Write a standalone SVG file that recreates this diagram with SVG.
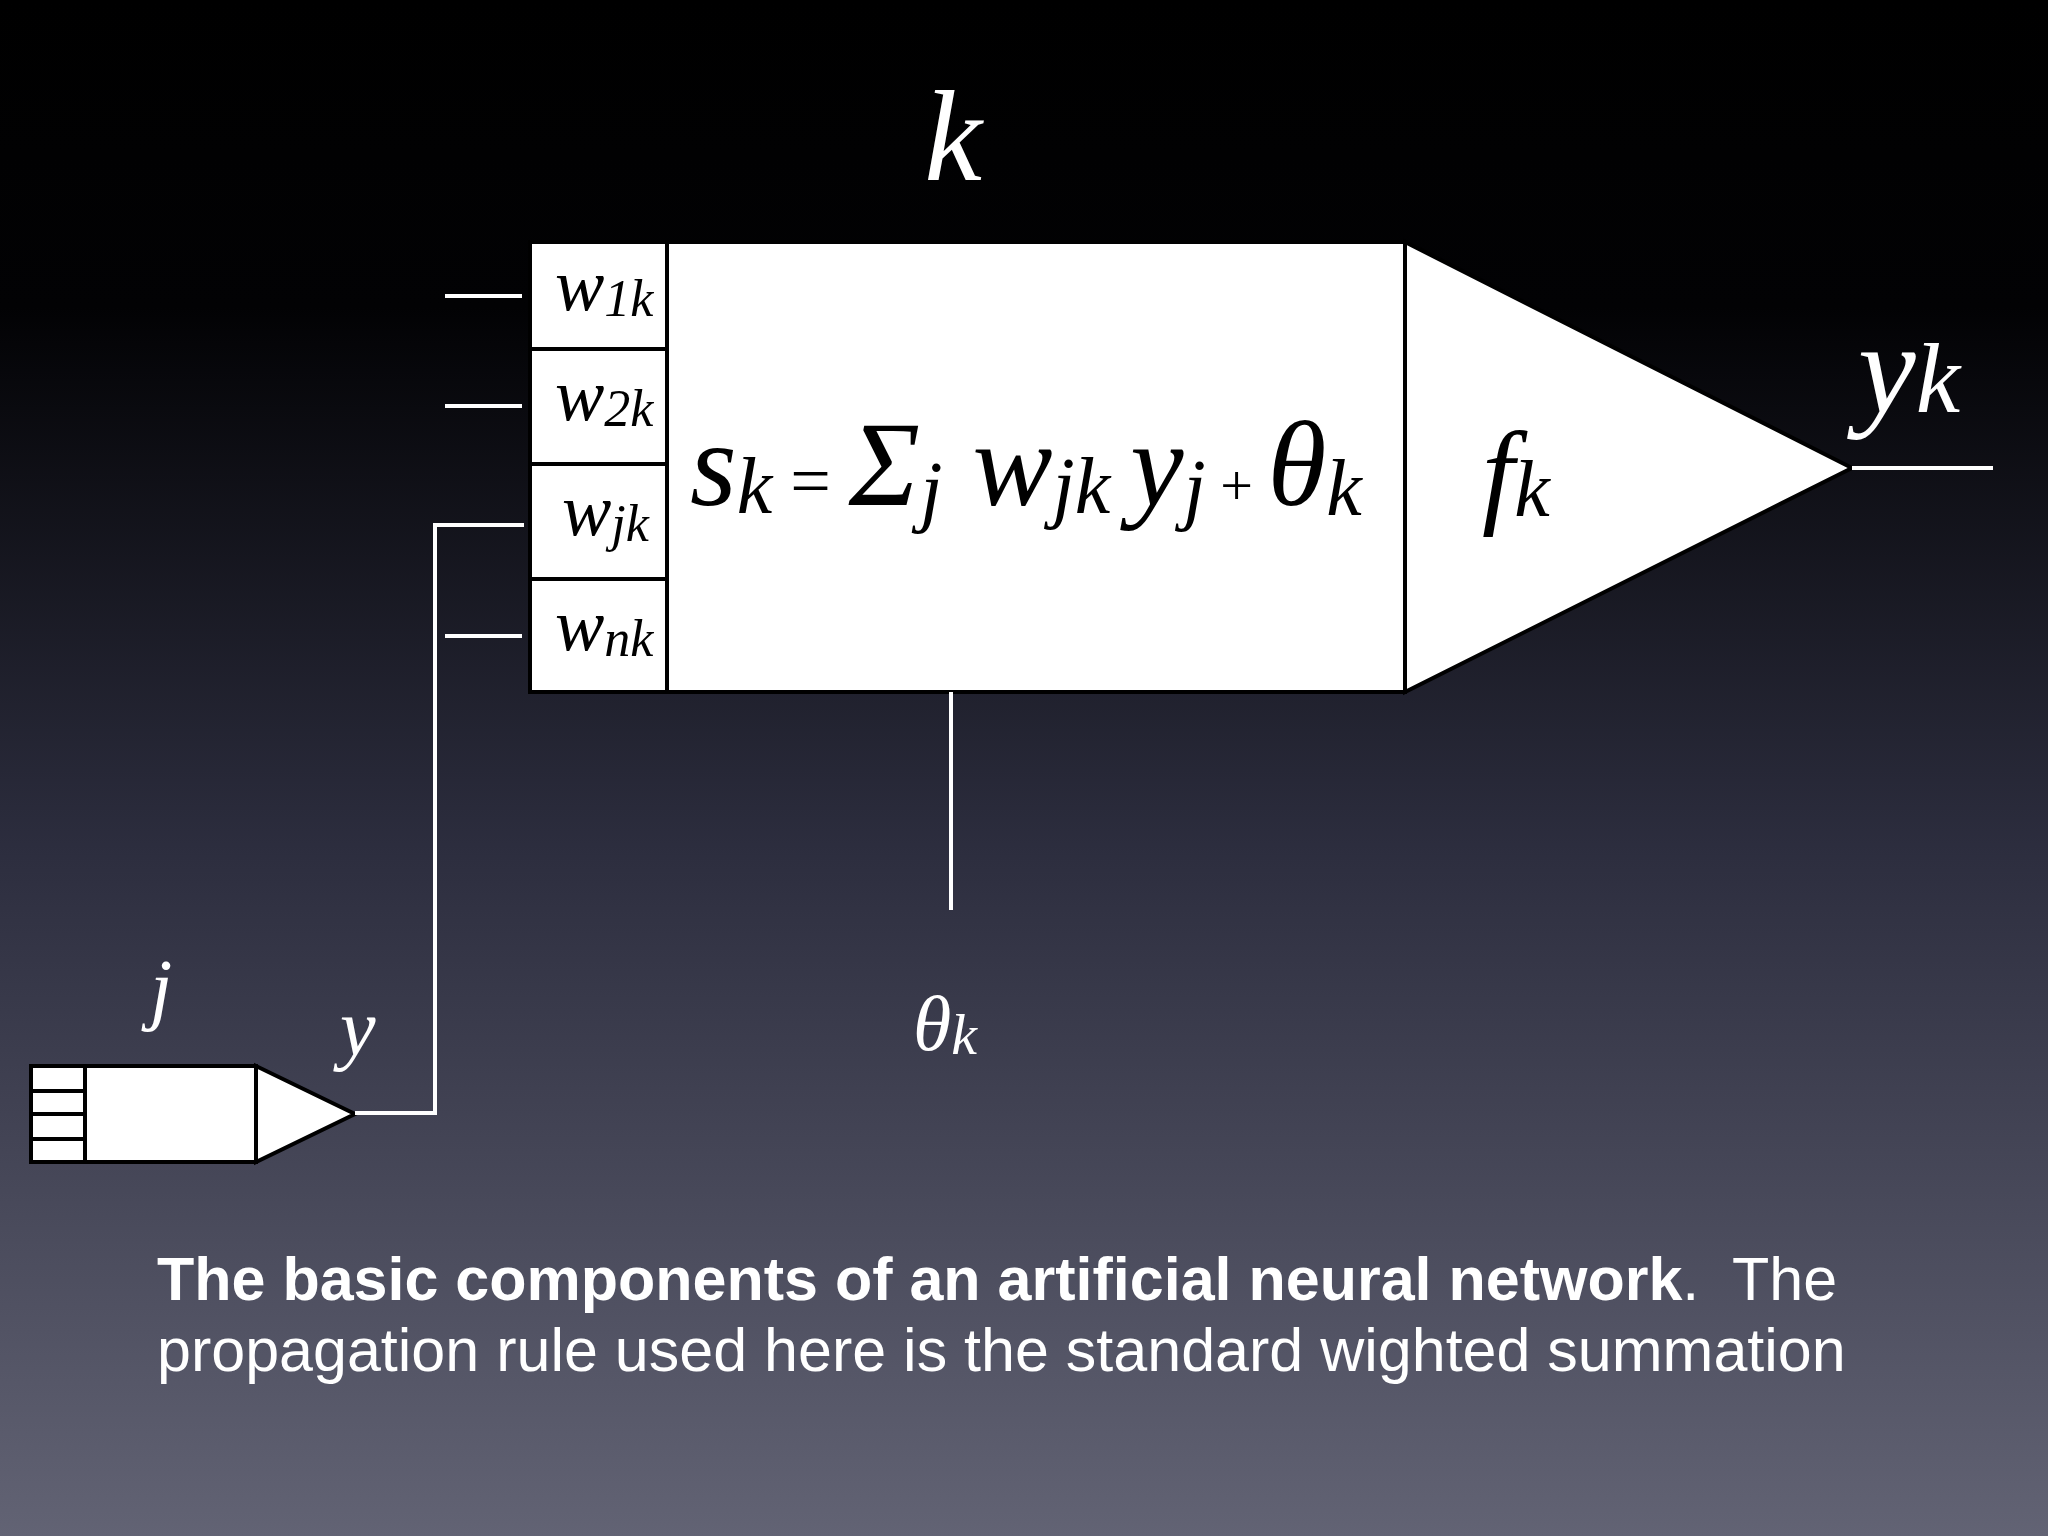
<svg xmlns="http://www.w3.org/2000/svg" width="2048" height="1536" viewBox="0 0 2048 1536">
<defs>
<linearGradient id="bg" x1="0" y1="0" x2="0" y2="1">
<stop offset="0" stop-color="#000"/><stop offset="0.2" stop-color="#020204"/><stop offset="0.55" stop-color="#2c2d3e"/><stop offset="1" stop-color="#626374"/>
</linearGradient>
<style>
.s{fill:#fff;stroke:#000;stroke-width:4}
.w{stroke:#fff;stroke-width:4;fill:none}
.m{font-family:'Liberation Serif',serif;font-style:italic}
.c{font-family:'Liberation Sans',sans-serif;fill:#fff;font-size:61px}
</style>
</defs>
<rect width="2048" height="1536" fill="url(#bg)"/>
<g id="neuron-k">
<rect class="s" x="530" y="242" width="875" height="450"/>
<line x1="667" y1="242" x2="667" y2="692" stroke="#000" stroke-width="4"/>
<line x1="530" y1="349" x2="667" y2="349" stroke="#000" stroke-width="4"/>
<line x1="530" y1="464" x2="667" y2="464" stroke="#000" stroke-width="4"/>
<line x1="530" y1="579" x2="667" y2="579" stroke="#000" stroke-width="4"/>
<polygon class="s" points="1405,242 1852,468 1405,692"/>
<g class="m" font-size="74">
<text x="555" y="310">w<tspan font-size="52" dy="6">1k</tspan></text>
<text x="555" y="420">w<tspan font-size="52" dy="6">2k</tspan></text>
<text x="562" y="535">w<tspan font-size="52" dy="6">jk</tspan></text>
<text x="555" y="650">w<tspan font-size="52" dy="6">nk</tspan></text>
</g>
<text class="m" x="690" y="505" font-size="120">s<tspan font-size="80" dy="8">k</tspan><tspan font-style="normal" font-size="72" dy="-8"> = </tspan>Σ<tspan font-size="80" dy="12">j</tspan><tspan dy="-12"> w</tspan><tspan font-size="80" dy="8">jk </tspan><tspan dy="-8">y</tspan><tspan font-size="80" dy="10">j</tspan><tspan font-style="normal" font-size="58" dy="-10"> + </tspan>θ<tspan font-size="80" dy="10">k</tspan></text>
<text class="m" x="1482" y="512" font-size="116">f<tspan font-size="80" dy="4">k</tspan></text>
<text class="m" x="953" y="180" font-size="130" fill="#fff" text-anchor="middle">k</text>
</g>
<g id="neuron-j">
<rect class="s" x="31" y="1066" width="225" height="96"/>
<line x1="85" y1="1066" x2="85" y2="1162" stroke="#000" stroke-width="4"/>
<line x1="31" y1="1091" x2="85" y2="1091" stroke="#000" stroke-width="4"/>
<line x1="31" y1="1114" x2="85" y2="1114" stroke="#000" stroke-width="4"/>
<line x1="31" y1="1139" x2="85" y2="1139" stroke="#000" stroke-width="4"/>
<polygon class="s" points="256,1066 355,1114 256,1162"/>
<text class="m" x="150" y="1015" font-size="80" fill="#fff">j</text>
</g>
<g id="connectors">
<line class="w" x1="445" y1="296" x2="522" y2="296"/>
<line class="w" x1="445" y1="406" x2="522" y2="406"/>
<line class="w" x1="445" y1="636" x2="522" y2="636"/>
<polyline class="w" points="524,525 435,525 435,1113 355,1113"/>
<line class="w" x1="951" y1="692" x2="951" y2="910"/>
<line class="w" x1="1852" y1="468" x2="1993" y2="468"/>
</g>
<g id="labels" class="m" fill="#fff">
<text x="1858" y="412" font-size="130">y<tspan font-size="100">k</tspan></text>
<text x="340" y="1055" font-size="80">y</text>
<text x="913" y="1050" font-size="78">θ<tspan font-size="58" dy="4">k</tspan></text>
</g>
<g id="caption">
<text class="c" x="157" y="1300" xml:space="preserve"><tspan font-weight="bold">The basic components of an artificial neural network</tspan>.  The</text>
<text class="c" x="157" y="1371">propagation rule used here is the standard wighted summation</text>
</g>
</svg>
